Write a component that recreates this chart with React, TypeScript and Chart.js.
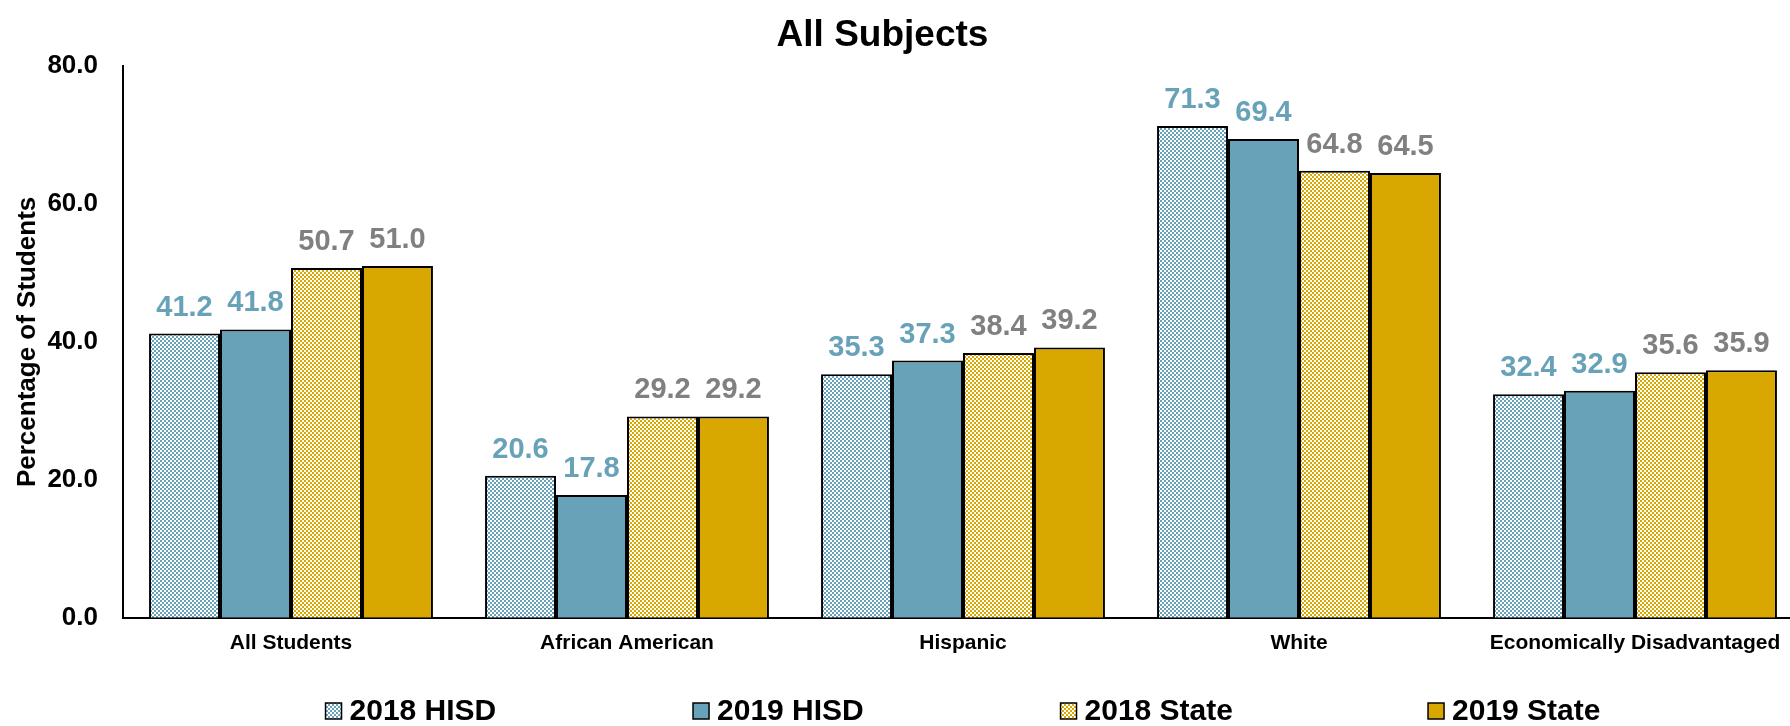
import React, { useEffect, useRef } from 'react';
import { Chart, registerables } from 'chart.js';

Chart.register(...registerables);

const categories = ['All Students', 'African American', 'Hispanic', 'White', 'Economically Disadvantaged'];
const seriesNames = ['2018 HISD', '2019 HISD', '2018 State', '2019 State'];
const hisd2018 = [41.2, 20.6, 35.3, 71.3, 32.4];
const hisd2019 = [41.8, 17.8, 37.3, 69.4, 32.9];
const state2018 = [50.7, 29.2, 38.4, 64.8, 35.6];
const state2019 = [51.0, 29.2, 39.2, 64.5, 35.9];
const yTicks = [0, 20, 40, 60, 80];

const BLUE = '#68a2b9';
const GOLD = '#d9a800';
const BLUE_LABEL = '#68a2b9';
const GRAY_LABEL = '#808080';
const FONT = '"Liberation Sans", Arial, Helvetica, sans-serif';

function makePattern(ctx: CanvasRenderingContext2D, color: string): CanvasPattern | string {
  const t = document.createElement('canvas');
  t.width = 4;
  t.height = 4;
  const c = t.getContext('2d');
  if (!c) return color;
  c.fillStyle = '#ffffff';
  c.fillRect(0, 0, 4, 4);
  c.fillStyle = color;
  c.fillRect(0, 0, 2, 2);
  c.fillRect(2, 2, 2, 2);
  return ctx.createPattern(t, 'repeat') || color;
}

const dataLabelPlugin = {
  id: 'dataLabels',
  afterDatasetsDraw(chart: any) {
    const ctx = chart.ctx;
    ctx.save();
    ctx.font = `bold 29px ${FONT}`;
    ctx.textAlign = 'center';
    ctx.textBaseline = 'alphabetic';
    chart.data.datasets.forEach((ds: any, i: number) => {
      const meta = chart.getDatasetMeta(i);
      ctx.fillStyle = ds.labelColor;
      meta.data.forEach((bar: any, j: number) => {
        ctx.fillText(Number(ds.data[j]).toFixed(1), bar.x, bar.y - 18);
      });
    });
    ctx.restore();
  },
};

const legendPlugin = {
  id: 'customLegend',
  afterDraw(chart: any) {
    const ctx = chart.ctx;
    const { left, right } = chart.chartArea;
    const step = 367.5;
    const box = 16;
    const gap = 8;
    ctx.save();
    ctx.font = `bold 30px ${FONT}`;
    const items = chart.data.datasets;
    const lastW = box + gap + ctx.measureText(items[items.length - 1].label).width;
    const total = step * (items.length - 1) + lastW;
    let x = (left + right) / 2 - total / 2;
    const yc = chart.height - 15;
    items.forEach((ds: any) => {
      ctx.fillStyle = ds.backgroundColor;
      ctx.fillRect(x, yc - box / 2, box, box);
      ctx.lineWidth = 1.5;
      ctx.strokeStyle = '#000';
      ctx.strokeRect(x, yc - box / 2, box, box);
      ctx.fillStyle = '#000';
      ctx.textAlign = 'left';
      ctx.textBaseline = 'middle';
      ctx.fillText(ds.label, x + box + gap, yc + 1);
      x += step;
    });
    ctx.restore();
  },
};

const shiftTitlePlugin = {
  id: 'shiftTitle',
  afterLayout(chart: any) {
    const t = chart.titleBlock;
    if (t) {
      t.left -= 19;
      t.right -= 19;
    }
  },
};

export default function App() {
  const ref = useRef<HTMLCanvasElement>(null);

  useEffect(() => {
    const canvas = ref.current;
    if (!canvas) return;
    const ctx = canvas.getContext('2d');
    if (!ctx) return;
    Chart.defaults.font.family = FONT;

    const series = [hisd2018, hisd2019, state2018, state2019];
    const fills = [makePattern(ctx, BLUE), BLUE, makePattern(ctx, GOLD), GOLD];
    const labelColors = [BLUE_LABEL, BLUE_LABEL, GRAY_LABEL, GRAY_LABEL];

    const chart = new Chart(ctx, {
      type: 'bar',
      data: {
        labels: categories,
        datasets: series.map((d, i) => ({
          label: seriesNames[i],
          data: d,
          backgroundColor: fills[i] as any,
          borderColor: '#000000',
          borderWidth: 2,
          barPercentage: 1,
          categoryPercentage: 0.845,
          labelColor: labelColors[i],
        })) as any,
      },
      options: {
        responsive: false,
        animation: false,
        layout: { padding: { bottom: 57 } },
        plugins: {
          legend: { display: false },
          tooltip: { enabled: false },
          title: {
            display: true,
            text: 'All Subjects',
            color: '#000',
            font: { size: 37, weight: 'bold', family: FONT },
            padding: { top: 14, bottom: 7.6 },
          },
        },
        scales: {
          x: {
            grid: { display: false, drawTicks: false },
            border: { display: true, color: '#000', width: 2 },
            ticks: {
              color: '#000',
              font: { size: 21, weight: 'bold', family: FONT },
              padding: 13,
              maxRotation: 0,
              autoSkip: false,
            },
          },
          y: {
            min: 0,
            max: 80,
            afterFit(s: any) {
              s.width = 123;
            },
            afterBuildTicks(s: any) {
              s.ticks = yTicks.map((v) => ({ value: v }));
            },
            grid: { display: false, drawTicks: false },
            border: { display: true, color: '#000', width: 2 },
            ticks: {
              color: '#000',
              font: { size: 26, weight: 'bold', family: FONT },
              padding: 25,
              callback: (v: any) => Number(v).toFixed(1),
            },
            title: {
              display: true,
              text: 'Percentage of Students',
              color: '#000',
              font: { size: 26, weight: 'bold', family: FONT },
              padding: { top: 12, bottom: 0 },
            },
          },
        },
      } as any,
      plugins: [dataLabelPlugin, legendPlugin, shiftTitlePlugin],
    });

    return () => {
      chart.destroy();
    };
  }, []);

  return (
    <div
      style={{
        position: 'absolute',
        left: 0,
        top: 0,
        width: 1790,
        height: 726,
        overflow: 'hidden',
        background: '#fff',
      }}
    >
      <canvas ref={ref} width={1803} height={726} style={{ display: 'block' }} />
    </div>
  );
}
